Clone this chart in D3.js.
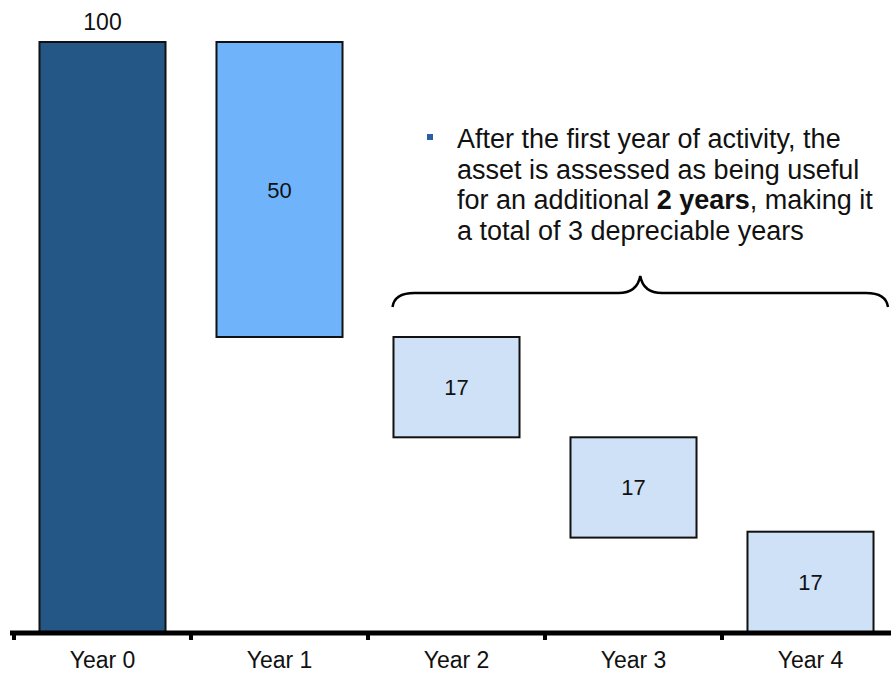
<!DOCTYPE html>
<html>
<head>
<meta charset="utf-8">
<script src="https://cdn.jsdelivr.net/npm/d3@7"></script>
<style>
  html, body { margin: 0; padding: 0; background: #fff; }
  svg { display: block; font-family: "Liberation Sans", Arial, sans-serif; }
</style>
</head>
<body>
<svg id="chart" width="891" height="674"></svg>
<script>
// Depreciation waterfall: categories, bar values and where each bar starts
const categories = ["Year 0", "Year 1", "Year 2", "Year 3", "Year 4"];
const values = [100, 50, 17, 17, 17];
const bases = [0, 50, 33, 16, 0];
const fills = ["#245785", "#6fb4fb", "#cfe1f6", "#cfe1f6", "#cfe1f6"];
const labelPos = ["above", "inside", "inside", "inside", "inside"];
const noteLines = [
  [{ t: "After the first year of activity, the" }],
  [{ t: "asset is assessed as being useful" }],
  [{ t: "for an additional " }, { t: "2 years", b: true }, { t: ", making it" }],
  [{ t: "a total of 3 depreciable years" }]
];

const svg = d3.select("#chart");

const x = d3.scaleBand()
  .domain(categories)
  .range([14, 899])
  .paddingInner(0.288)
  .paddingOuter(0.144);

const y = d3.scaleLinear()
  .domain([0, 100])
  .range([632, 42]);

const data = categories.map((c, i) => ({
  cat: c, value: values[i], base: bases[i], fill: fills[i], pos: labelPos[i]
}));

// Bars
svg.append("g").selectAll("rect")
  .data(data)
  .join("rect")
  .attr("x", d => x(d.cat))
  .attr("width", x.bandwidth())
  .attr("y", d => y(d.base + d.value))
  .attr("height", d => y(d.base) - y(d.base + d.value))
  .attr("fill", d => d.fill)
  .attr("stroke", "#111")
  .attr("stroke-width", 2);

// Value labels
svg.append("g").selectAll("text")
  .data(data)
  .join("text")
  .attr("x", d => x(d.cat) + x.bandwidth() / 2)
  .attr("y", d => d.pos === "above"
    ? y(d.base + d.value) - 12
    : (y(d.base) + y(d.base + d.value)) / 2 + 8)
  .attr("text-anchor", "middle")
  .attr("font-size", d => d.pos === "above" ? 23 : 22)
  .attr("fill", "#111")
  .text(d => d.value);

// Category axis with ticks at the band boundaries
const axisY = 633;
const axisG = svg.append("g");
axisG.append("line")
  .attr("x1", 10).attr("x2", 891)
  .attr("y1", axisY).attr("y2", axisY)
  .attr("stroke", "#000").attr("stroke-width", 5);
const step = x.step();
const boundaries = categories.map((c, i) => x(c) - (step - x.bandwidth()) / 2);
axisG.selectAll("rect.tick")
  .data(boundaries)
  .join("rect")
  .attr("class", "tick")
  .attr("x", d => d - 2)
  .attr("y", axisY)
  .attr("width", 4)
  .attr("height", 7)
  .attr("fill", "#000");
axisG.selectAll("text")
  .data(categories)
  .join("text")
  .attr("x", d => x(d) + x.bandwidth() / 2)
  .attr("y", 668)
  .attr("text-anchor", "middle")
  .attr("font-size", 23)
  .attr("fill", "#111")
  .text(d => d);

// Curly brace spanning Years 2 to 4
const bx0 = x("Year 2") - 1, bx1 = 888;
const bmid = (bx0 + bx1) / 2 - 0;
const byEnd = 307, byLine = 293, byTip = 276;
const r = 22;
const brace = d3.path();
brace.moveTo(bx0, byEnd);
brace.quadraticCurveTo(bx0 + 2, byLine, bx0 + r, byLine);
brace.lineTo(bmid - r, byLine);
brace.quadraticCurveTo(bmid - 3, byLine, bmid, byTip);
brace.quadraticCurveTo(bmid + 3, byLine, bmid + r, byLine);
brace.lineTo(bx1 - r, byLine);
brace.quadraticCurveTo(bx1 - 2, byLine, bx1, byEnd);
svg.append("path")
  .attr("d", brace.toString())
  .attr("fill", "none")
  .attr("stroke", "#000")
  .attr("stroke-width", 2.5);

// Annotation note with bullet
svg.append("rect")
  .attr("x", 427).attr("y", 134)
  .attr("width", 6).attr("height", 6)
  .attr("fill", "#2b5ea3");
const note = svg.append("text")
  .attr("font-size", 27)
  .attr("fill", "#111");
noteLines.forEach((line, i) => {
  const tl = note.append("tspan").attr("x", 457).attr("y", 148 + i * 30.5);
  line.forEach((seg, j) => {
    const s = j === 0 ? tl : note.append("tspan");
    s.text(seg.t).attr("font-weight", seg.b ? "bold" : null);
  });
});
</script>
</body>
</html>
